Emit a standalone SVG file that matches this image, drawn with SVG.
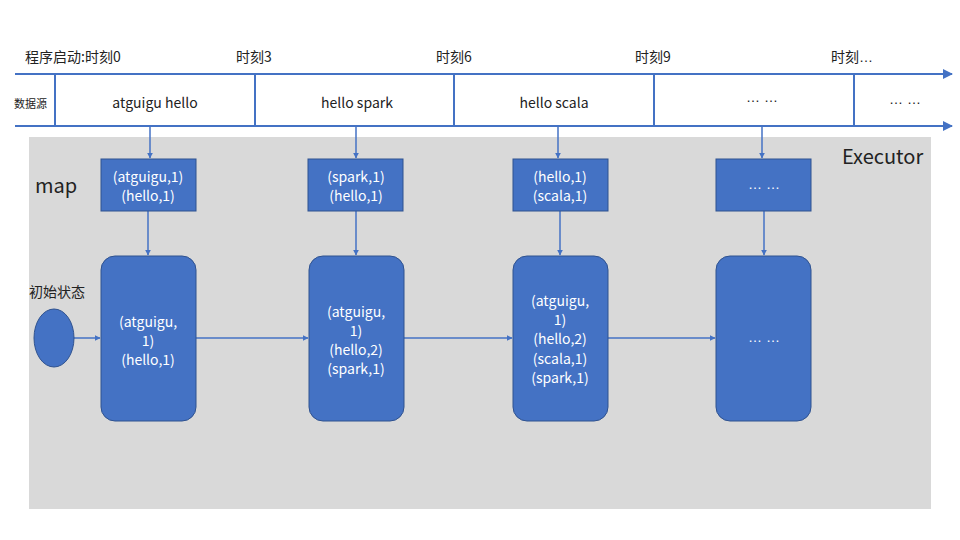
<svg xmlns="http://www.w3.org/2000/svg" width="960" height="540" viewBox="0 0 960 540">
<defs>
<marker id="ah" viewBox="0 0 10 10" refX="9" refY="5" markerWidth="5" markerHeight="5" orient="auto" markerUnits="strokeWidth"><path d="M0,0 L10,5 L0,10 z" fill="#4472c4"/></marker>
<marker id="ahs" viewBox="0 0 10 10" refX="9" refY="5" markerWidth="4" markerHeight="4" orient="auto" markerUnits="strokeWidth"><path d="M0,0 L10,5 L0,10 z" fill="#4472c4"/></marker>
</defs>
<style>
text{font-family:"Noto Sans CJK SC","Open Sans","Liberation Sans",sans-serif;}
.ell{font-family:"Liberation Sans",sans-serif;}
.blk{fill:#222;}
.wt{fill:#fff;font-size:14px;text-anchor:middle;}
.node{fill:#4472c4;stroke:#2f528f;stroke-width:1;}
.ln{stroke:#4472c4;stroke-width:2;fill:none;}
.ar{stroke:#4472c4;stroke-width:1.5;fill:none;marker-end:url(#ahs);}
</style>
<rect x="29" y="137" width="902" height="372" fill="#d9d9d9"/>
<g id="timeline">
<line class="ln" x1="15" y1="74" x2="952" y2="74" marker-end="url(#ah)"/>
<line class="ln" x1="15" y1="126" x2="952" y2="126" marker-end="url(#ah)"/>
<line class="ln" x1="55" y1="74" x2="55" y2="126"/>
<line class="ln" x1="255" y1="74" x2="255" y2="126"/>
<line class="ln" x1="454" y1="74" x2="454" y2="126"/>
<line class="ln" x1="654" y1="74" x2="654" y2="126"/>
<line class="ln" x1="854" y1="74" x2="854" y2="126"/>
</g>
<g id="labels">
<text class="blk" x="25" y="62" font-size="14">程序启动:时刻0</text>
<text class="blk" x="236" y="62" font-size="14">时刻3</text>
<text class="blk" x="436" y="62" font-size="14">时刻6</text>
<text class="blk" x="635" y="62" font-size="14">时刻9</text>
<text class="blk" x="831" y="62" font-size="14">时刻<tspan class="ell">…</tspan></text>
<text class="blk" x="14" y="108" font-size="11">数据源</text>
<text class="blk" x="155" y="108" font-size="14" text-anchor="middle">atguigu hello</text>
<text class="blk" x="357" y="108" font-size="14" text-anchor="middle">hello spark</text>
<text class="blk" x="554" y="108" font-size="14" text-anchor="middle">hello scala</text>
<text class="blk ell" x="762" y="102" font-size="14" text-anchor="middle">… …</text>
<text class="blk ell" x="905" y="104" font-size="14" text-anchor="middle">… …</text>
<text class="blk" x="35" y="193" font-size="20">map</text>
<text class="blk" x="842" y="164" font-size="20">Executor</text>
<text class="blk" x="29" y="297" font-size="14">初始状态</text>
</g>
<g id="connectors">
<line class="ar" x1="150" y1="127" x2="150" y2="158"/>
<line class="ar" x1="356" y1="127" x2="356" y2="158"/>
<line class="ar" x1="558" y1="127" x2="558" y2="158"/>
<line class="ar" x1="762" y1="127" x2="762" y2="158"/>
<line class="ar" x1="148" y1="211" x2="148" y2="255"/>
<line class="ar" x1="356" y1="211" x2="356" y2="255"/>
<line class="ar" x1="560" y1="211" x2="560" y2="255"/>
<line class="ar" x1="764" y1="211" x2="764" y2="255"/>
<line class="ar" x1="74" y1="338" x2="100" y2="338"/>
<line class="ar" x1="196" y1="338" x2="308" y2="338"/>
<line class="ar" x1="404" y1="338" x2="512" y2="338"/>
<line class="ar" x1="608" y1="338" x2="715" y2="338"/>
</g>
<g id="map1"><rect class="node" x="101" y="159" width="95" height="52"/><text class="wt" x="148" y="182">(atguigu,1)</text><text class="wt" x="148" y="201">(hello,1)</text></g>
<g id="map2"><rect class="node" x="308" y="159" width="95" height="52"/><text class="wt" x="356" y="182">(spark,1)</text><text class="wt" x="356" y="201">(hello,1)</text></g>
<g id="map3"><rect class="node" x="513" y="159" width="95" height="52"/><text class="wt" x="560" y="182">(hello,1)</text><text class="wt" x="560" y="201">(scala,1)</text></g>
<g id="map4"><rect class="node" x="716" y="159" width="95" height="52"/><text class="wt ell" x="764" y="189">… …</text></g>
<g id="init"><ellipse class="node" cx="54" cy="338" rx="20" ry="29"/></g>
<g id="state1"><rect class="node" x="101" y="256" width="95" height="165" rx="14"/><text class="wt" x="148" y="327">(atguigu,</text><text class="wt" x="148" y="346">1)</text><text class="wt" x="148" y="365">(hello,1)</text></g>
<g id="state2"><rect class="node" x="309" y="256" width="95" height="165" rx="14"/><text class="wt" x="356" y="317">(atguigu,</text><text class="wt" x="356" y="336">1)</text><text class="wt" x="356" y="355">(hello,2)</text><text class="wt" x="356" y="374">(spark,1)</text></g>
<g id="state3"><rect class="node" x="513" y="256" width="95" height="165" rx="14"/><text class="wt" x="560" y="306">(atguigu,</text><text class="wt" x="560" y="325">1)</text><text class="wt" x="560" y="344">(hello,2)</text><text class="wt" x="560" y="364">(scala,1)</text><text class="wt" x="560" y="383">(spark,1)</text></g>
<g id="state4"><rect class="node" x="716" y="256" width="95" height="165" rx="14"/><text class="wt ell" x="764" y="342">… …</text></g>
</svg>
